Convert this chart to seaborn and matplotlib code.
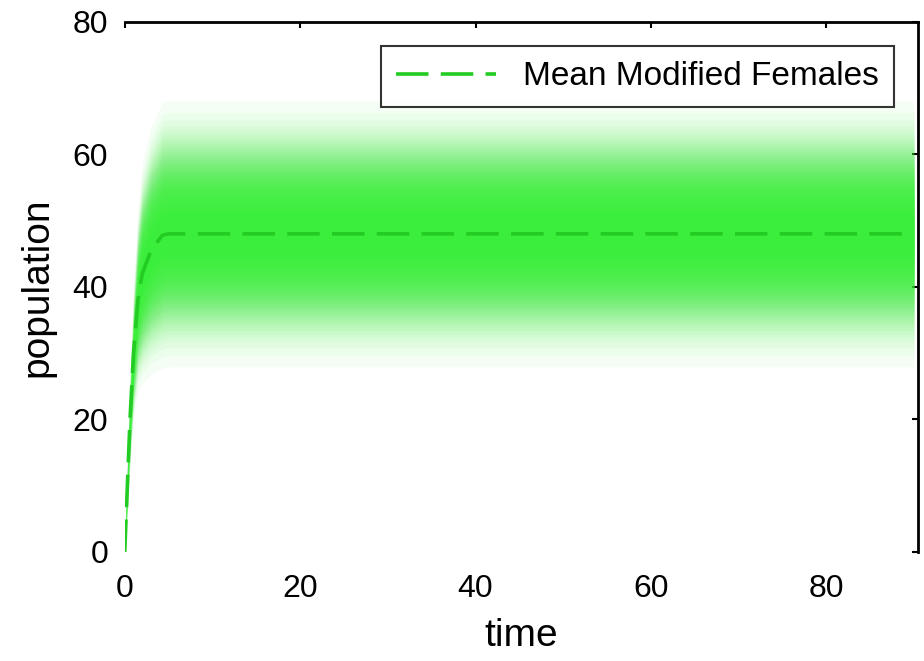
import numpy as np
import pandas as pd
import seaborn as sns
import matplotlib
matplotlib.use("Agg")
import matplotlib.pyplot as plt

# 시간별 평균 개체 수와 퍼짐 정도
time = [0, 0.3, 0.6, 1.0, 1.5, 2.0, 3.0, 4.3, 5.0, 90]
mean_pop = [0, 10, 20, 30, 38, 42, 45.5, 47.8, 48, 48]
spread = [0, 1.5, 2.5, 3.5, 4.8, 5.8, 6.5, 7.0, 7.0, 7.0]

x_ticks = [0, 20, 40, 60, 80]
y_ticks = [0, 20, 40, 60, 80]

df = pd.DataFrame({"time": time, "mean": mean_pop, "spread": spread})

sns.set_theme(style="white")
plt.rcParams['font.family'] = ['Liberation Sans', 'DejaVu Sans']
plt.rcParams['text.color'] = 'black'
plt.rcParams['axes.labelcolor'] = 'black'

fig = plt.figure(figsize=(9.24, 6.61), dpi=100)
ax = fig.add_axes([0.135, 0.165, 0.859, 0.802])

# 분포 밴드 (가우시안 모양 그라데이션)
green = "#3cee3c"
n_layers = 60
for i in range(1, n_layers + 1):
    k = np.sqrt(-2 * np.log(i / (n_layers + 1)))
    ax.fill_between(df["time"], df["mean"] - k * df["spread"], df["mean"] + k * df["spread"],
                    color=green, alpha=0.05, linewidth=0)

sns.lineplot(data=df, x="time", y="mean", ax=ax, color="#22cc22", linewidth=2.6,
             label="Mean Modified Females")
ax.lines[-1].set_linestyle((0, (9.0, 3.4)))

ax.set_xlim(0, 90.5)
ax.set_ylim(0, 80)
ax.set_xticks(x_ticks)
ax.set_yticks(y_ticks)
ax.tick_params(direction="in", top=True, right=True, length=4, width=1.5,
               labelsize=23, colors="black")
ax.tick_params(axis="x", pad=16)
ax.tick_params(axis="y", pad=12)
for side in ["left", "bottom"]:
    ax.spines[side].set_visible(False)
for side in ["top", "right"]:
    ax.spines[side].set_color("black")
    ax.spines[side].set_linewidth(2)

ax.set_xlabel("time", fontsize=28, labelpad=10)
ax.set_ylabel("population", fontsize=28, labelpad=12)

leg = ax.legend(loc="upper right", fontsize=24, frameon=True, fancybox=False,
                edgecolor="black", handlelength=3, borderpad=0.45,
                bbox_to_anchor=(0.99, 0.985))
leg.get_frame().set_linewidth(1.5)

plt.savefig("out.png", dpi=100)
